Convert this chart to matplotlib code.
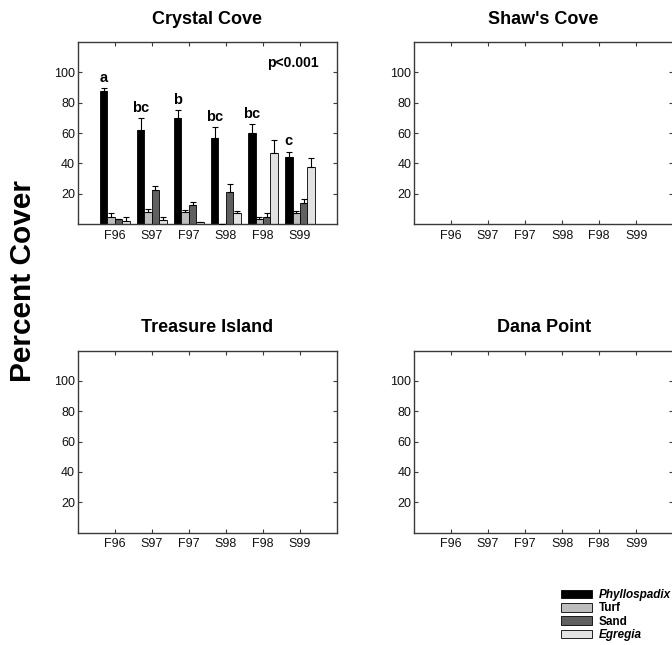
import matplotlib
matplotlib.use("Agg")
import matplotlib.pyplot as plt
from matplotlib.patches import Patch
import numpy as np

plt.rcParams['font.family'] = ['Liberation Sans', 'DejaVu Sans']

seasons = ["F96", "S97", "F97", "S98", "F98", "S99"]
sites = ["Crystal Cove", "Shaw's Cove", "Treasure Island", "Dana Point"]
taxa = ["Phyllospadix", "Turf", "Sand", "Egregia"]
colors = ["#000000", "#bdbdbd", "#606060", "#e2e2e2"]

# Crystal Cove means and standard errors
phyllo = [87.9, 61.9, 69.6, 56.6, 59.9, 44.5]
phyllo_se = [1.7, 7.9, 5.5, 7.3, 6.0, 3.3]
turf = [4.4, 8.1, 7.9, 0.0, 3.5, 7.3]
turf_se = [2.9, 1.8, 1.4, 0.0, 1.3, 1.5]
sand = [3.1, 22.5, 12.3, 20.9, 4.4, 14.1]
sand_se = [0.3, 2.6, 2.0, 5.5, 2.6, 2.2]
egregia = [2.0, 2.4, 1.1, 7.3, 46.9, 37.4]
egregia_se = [2.4, 2.0, 0.4, 1.5, 8.8, 6.4]
letters = ["a", "bc", "b", "bc", "bc", "c"]
p_text = "p<0.001"

W, H = 672, 645
fig = plt.figure(figsize=(W / 100, H / 100), dpi=100)

def fr(l, top, w, h):
    return [l / W, 1 - (top + h) / H, w / W, h / H]

positions = [fr(77.7, 42, 259.3, 182), fr(414, 42, 259.3, 182),
             fr(77.7, 350.5, 259.3, 182), fr(414, 350.5, 259.3, 182)]

spine_c = "#3a3a3a"
axes = []
for pos, name in zip(positions, sites):
    ax = fig.add_axes(pos)
    ax.set_xlim(0, 7)
    ax.set_ylim(0, 120)
    ax.set_xticks(range(1, 7))
    ax.set_xticklabels(seasons, fontsize=9)
    ax.set_yticks([20, 40, 60, 80, 100])
    ax.set_yticklabels(["20", "40", "60", "80", "100"], fontsize=9)
    ax.tick_params(direction='in', length=3, width=0.8, top=True, right=True,
                   color=spine_c, pad=4, labelcolor="#111111")
    ax.tick_params(axis='y', pad=2)
    for s in ax.spines.values():
        s.set_color(spine_c)
        s.set_linewidth(1.0)
    ax.set_title(name, fontsize=13, fontweight='bold', pad=13)
    axes.append(ax)

ax = axes[0]
x = np.arange(1, 7)
w = 0.2
series = [(phyllo, phyllo_se), (turf, turf_se), (sand, sand_se), (egregia, egregia_se)]
offs = [-0.3, -0.1, 0.1, 0.3]
for (vals, se), off, c in zip(series, offs, colors):
    ax.bar(x + off, vals, width=w, color=c, edgecolor="black", linewidth=0.6, zorder=2)
    ax.errorbar(x + off, vals, yerr=[np.zeros(len(se)), se], fmt='none',
                ecolor="black", elinewidth=0.8, capsize=2.5, capthick=0.8, zorder=3)

for xi, v, e, lab in zip(x, phyllo, phyllo_se, letters):
    ax.text(xi - 0.3, v + e + 2, lab, ha='center', va='bottom', fontsize=10.5, fontweight='bold')
ax.text(6.5, 106, p_text, ha='right', va='center', fontsize=10, fontweight='bold')

fig.text(23 / W, 1 - 281 / H, "Percent Cover", rotation=90, ha='center', va='center',
         fontsize=21.5, fontweight='bold')

handles = [Patch(facecolor=c, edgecolor='black', linewidth=0.6) for c in colors]
leg = fig.legend(handles, taxa, loc='upper left', bbox_to_anchor=(561 / W, 1 - 589 / H),
                 frameon=False, fontsize=8.5, handlelength=2.6, handleheight=0.75,
                 labelspacing=0.12, handletextpad=0.6, borderpad=0, borderaxespad=0)
for t, lab in zip(leg.get_texts(), taxa):
    t.set_fontweight('bold')
    if lab in ("Phyllospadix", "Egregia"):
        t.set_fontstyle('italic')

fig.savefig("out.png", dpi=100)
